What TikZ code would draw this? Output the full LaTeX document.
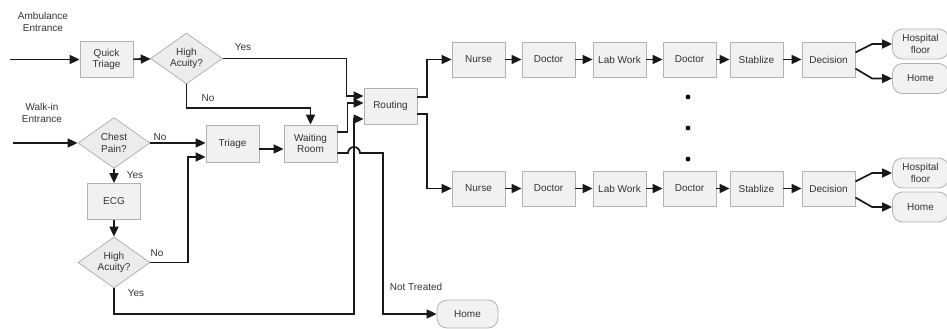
\documentclass[tikz,border=0pt]{standalone}
\usepackage{fontspec}
\setmainfont{Liberation Sans}
\usetikzlibrary{shapes.geometric,arrows.meta}
\begin{document}
\begin{tikzpicture}[x=1pt,y=-1pt,
  every node/.style={font=\fontsize{10}{11.5}\selectfont, text=black!80},
  box/.style={draw=gray!60, fill=gray!11, line width=0.8pt, minimum width=53pt, minimum height=36pt, inner sep=1pt, align=center},
  dec/.style={diamond, draw=gray!60, fill=gray!15, line width=0.8pt, minimum width=72pt, minimum height=51pt, inner sep=0pt, aspect=1.41, align=center},
  term/.style={draw=gray!60, fill=gray!10, line width=0.8pt, rounded corners=10pt, minimum width=56pt, minimum height=30pt, inner sep=1pt, align=center},
  lbl/.style={inner sep=0pt, align=center},
  flow/.style={line width=1.7pt, black!90},
  arr/.style={flow, -{Triangle[length=10pt,width=9pt]}},
]
\useasboundingbox (0,0) rectangle (947,329);

% entrances
\node[lbl] (amb) at (43,22) {Ambulance\\Entrance};
\node[lbl] (walk) at (42,113) {Walk-in\\Entrance};
\coordinate (ain) at (10,59.5);
\coordinate (win) at (13,143);

% triage stage
\node[box] (qt) at (106.5,59.5) {Quick\\Triage};
\node[dec] (ha1) at (186.5,58.5) {High\\Acuity?};
\node[dec] (cp) at (114,143) {Chest\\Pain?};
\node[box] (ecg) at (114,201.5) {ECG};
\node[dec] (ha2) at (114,262.5) {High\\Acuity?};
\node[box, minimum height=37pt] (tr) at (232.5,143.5) {Triage};
\node[box, minimum height=37pt] (wr) at (310.5,143.5) {Waiting\\Room};
\node[box] (rt) at (390.5,106) {Routing};
\node[term, minimum width=61pt, minimum height=28pt] (hm0) at (467.5,314) {Home};

% treatment tracks
\foreach \r/\y in {1/59.5, 2/188.5} {
  \node[box, minimum height=35pt] (nu\r) at (478.5,\y) {Nurse};
  \node[box, minimum height=35pt] (da\r) at (548.5,\y) {Doctor};
  \node[box, minimum height=35pt] (lw\r) at (619.5,\y) {Lab Work};
  \node[box, minimum height=35pt] (db\r) at (689.5,\y) {Doctor};
  \node[box, minimum height=35pt] (st\r) at (756.5,\y) {Stablize};
  \node[box, minimum height=35pt] (de\r) at (828.5,\y) {Decision};
  \draw[arr] (nu\r) -- (da\r);
  \draw[arr] (da\r) -- (lw\r);
  \draw[arr] (lw\r) -- (db\r);
  \draw[arr] (db\r) -- (st\r);
  \draw[arr] (st\r) -- (de\r);
}
\node[term] (hf1) at (920.5,44) {Hospital\\floor};
\node[term] (hm1) at (920.5,78.5) {Home};
\node[term] (hf2) at (920.5,173) {Hospital\\floor};
\node[term] (hm2) at (920.5,207) {Home};

\foreach \r in {1,2} {
  \draw[arr] ([yshift=7pt]de\r.east) -- ([xshift=-20pt]hf\r.west) -- (hf\r.west);
  \draw[arr] ([yshift=-9pt]de\r.east) -- ([xshift=-20pt]hm\r.west) -- (hm\r.west);
}

% dots between tracks
\foreach \y/\n in {97/1,128/2,159/3} \fill (688,\y) coordinate (dot\n) circle (2.4pt);

% ambulance path
\draw[arr] (ain) -- (qt);
\draw[arr] (qt) -- (ha1);
\draw[arr] (ha1.east) -| (346.5,96) -- ([yshift=10pt]rt.west);
\node[lbl] (yes1) at (243,47) {Yes};
\draw[arr] (ha1.south) |- (310.5,108) -- (wr.north);
\node[lbl] (no1) at (208,98) {No};

% walk-in path
\draw[arr] (win) -- (cp.west);
\draw[arr] (cp.east) -- (cp.east -| tr.west);
\node[lbl] (no2) at (160,137) {No};
\draw[arr] (cp.south) -- (ecg.north);
\node[lbl] (yes2) at (135,175) {Yes};
\draw[arr] (ecg.south) -- (ha2.north);
\draw[arr] (ha2.east) -| (188,157) -- ([yshift=-13.5pt]tr.west);
\node[lbl] (no3) at (157,253) {No};
\draw[arr] (ha2.south) |- (354,314) -- (354,119) -- ([yshift=-13pt]rt.west);
\node[lbl] (yes3) at (136,293) {Yes};

% waiting room and routing
\draw[arr] ([yshift=-5.5pt]tr.east) -- ([yshift=-5.5pt]wr.west);
\draw[arr] ([yshift=11.5pt]wr.east) -| (347.5,103) -- ([yshift=3pt]rt.west);
\draw[arr] ([yshift=-9.5pt]wr.east) -- (348,153) arc[start angle=180, end angle=0, radius=6pt] -- (383,153) -- (383,314) -- (hm0.west);
\node[lbl] (nt) at (416,287) {Not Treated};
\draw[arr] ([yshift=9pt]rt.east) -| (427,59.5) -- (nu1.west);
\draw[arr] ([yshift=-8pt]rt.east) -| (427,188.5) -- (nu2.west);
\end{tikzpicture}
\end{document}
